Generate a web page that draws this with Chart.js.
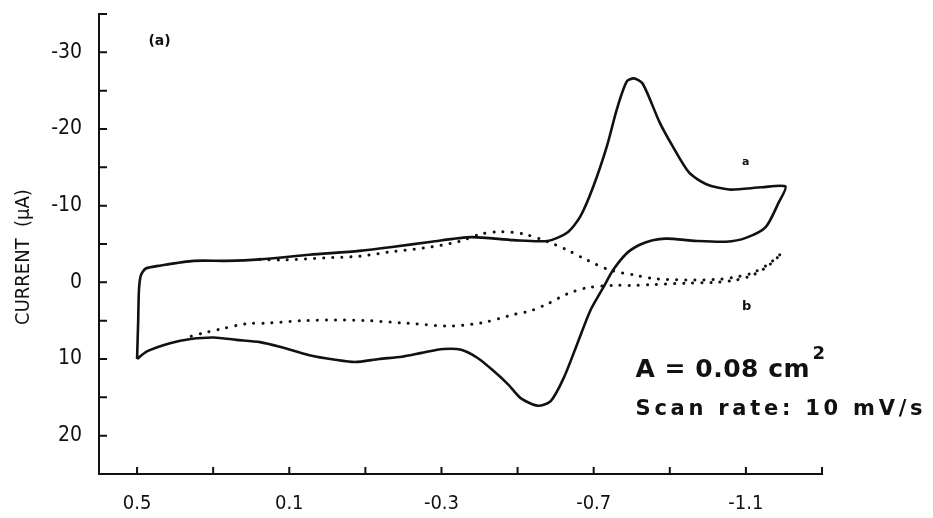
<!DOCTYPE html>
<html>
<head>
<meta charset="utf-8">
<script src="https://cdn.jsdelivr.net/npm/chart.js@4.4.1/dist/chart.umd.min.js"></script>
<style>
  html, body { margin: 0; padding: 0; background: #fff; }
</style>
</head>
<body>
<canvas id="cv" width="933" height="518"></canvas>
<script>
// ===== DATA =====
// curve a (solid): scan 0.5 V -> -1.2 V -> 0.5 V
const potentialA = [0.5, 0.497, 0.495, 0.49, 0.477, 0.437, 0.351, 0.265, 0.177, 0.047, -0.084, -0.17, -0.274, -0.378, -0.49,
    -0.579, -0.631, -0.665, -0.699, -0.735, -0.761, -0.787, -0.806, -0.829, -0.873,
    -0.907, -0.951, -0.996, -1.056, -1.142, -1.204,
    -1.186, -1.152, -1.1, -1.048, -0.97, -0.892, -0.855, -0.821, -0.787, -0.751,
    -0.725, -0.691, -0.657, -0.621, -0.587, -0.553, -0.508, -0.475, -0.438, -0.396,
    -0.352, -0.305, -0.248, -0.196, -0.136, -0.073, -0.021, 0.047, 0.125, 0.177,
    0.239, 0.299, 0.359, 0.411, 0.474, 0.5];
const currentA = [10.0, 5.0, 1.0, -0.9, -1.8, -2.2, -2.8, -2.8, -3.0, -3.6, -4.1, -4.6, -5.3, -5.9, -5.5,
    -5.4, -6.5, -8.6, -12.5, -17.8, -22.6, -26.2, -26.6, -25.9, -20.9,
    -17.8, -14.3, -12.8, -12.1, -12.4, -12.5,
    -10.4, -7.2, -5.8, -5.3, -5.4, -5.7, -5.5, -4.9, -3.8, -1.6,
    0.7, 3.7, 8.0, 12.5, 15.5, 16.1, 15.1, 13.3, 11.6, 9.9,
    8.8, 8.7, 9.2, 9.7, 10.0, 10.4, 10.1, 9.5, 8.4, 7.8,
    7.5, 7.2, 7.4, 7.9, 9.0, 10.0];

// curve b (dotted)
const potentialB = [0.177, 0.125, 0.005, -0.084, -0.17, -0.256, -0.344, -0.404, -0.456, -0.516,
    -0.579, -0.631, -0.683, -0.743, -0.813, -0.855, -0.944, -1.03, -1.074, -1.116,
    -1.16, -1.194, -1.16, -1.116, -1.074, -1.022, -0.944, -0.855, -0.795, -0.751,
    -0.683, -0.631, -0.579, -0.535, -0.49, -0.404, -0.318, -0.23, -0.196, -0.11,
    -0.021, 0.065, 0.151, 0.213, 0.281, 0.325, 0.37];
const currentB = [-3.0, -2.9, -3.2, -3.4, -4.0, -4.5, -5.3, -6.3, -6.6, -6.3,
    -5.3, -4.2, -2.9, -1.6, -0.9, -0.5, -0.3, -0.4, -0.7, -1.2,
    -2.4, -3.8, -2.2, -0.9, -0.3, 0.0, 0.1, 0.3, 0.4, 0.4,
    0.7, 1.5, 2.8, 3.7, 4.2, 5.3, 5.7, 5.4, 5.3, 5.0,
    4.9, 5.0, 5.3, 5.4, 6.1, 6.6, 7.2];

// axis ticks (minor marks) and which of them get a label
const xTickValues = [0.5, 0.3, 0.1, -0.1, -0.3, -0.5, -0.7, -0.9, -1.1, -1.3];
const xTickLabels = [0.5, 0.1, -0.3, -0.7, -1.1];
const yTickValues = [-35, -30, -25, -20, -15, -10, -5, 0, 5, 10, 15, 20];
const yTickLabels = [-30, -20, -10, 0, 10, 20];

const INK = "#111";
const narrow = "'Liberation Sans Narrow', 'DejaVu Sans Condensed', sans-serif";

const toPoints = (xs, ys) => xs.map((v, i) => ({ x: v, y: ys[i] }));

// write text stretched to a given width via letter spacing
function spacedText(ctx, text, x, y, width) {
    ctx.letterSpacing = "0px";
    const w = ctx.measureText(text).width;
    ctx.letterSpacing = ((width - w) / (text.length - 1)) + "px";
    ctx.fillText(text, x, y);
    ctx.letterSpacing = "0px";
}

// keep the frame exactly where the layout padding puts it
function noEdgePadding(s) {
    s.paddingTop = 0;
    s.paddingBottom = 0;
    s.paddingLeft = 0;
    s.paddingRight = 0;
}

// ===== Inward tick marks, labels and notes =====
const plotDecor = {
    id: 'plotDecor',
    afterDraw(chart) {
        const { ctx, chartArea: a, scales: { x, y } } = chart;
        ctx.save();
        ctx.strokeStyle = INK;
        ctx.lineWidth = 2;
        ctx.beginPath();
        x.ticks.forEach(t => {
            const px = x.getPixelForValue(t.value);
            ctx.moveTo(px, a.bottom);
            ctx.lineTo(px, a.bottom - 7);
        });
        y.ticks.forEach(t => {
            const py = y.getPixelForValue(t.value);
            ctx.moveTo(a.left, py);
            ctx.lineTo(a.left + 8, py);
        });
        ctx.stroke();

        ctx.fillStyle = INK;
        ctx.textBaseline = "alphabetic";
        ctx.textAlign = "left";

        // axis title
        ctx.save();
        ctx.translate(29, 257);
        ctx.rotate(-Math.PI / 2);
        ctx.textAlign = "center";
        ctx.font = "20px " + narrow;
        ctx.fillText("CURRENT  (\u00b5A)", 0, 0);
        ctx.restore();

        ctx.font = "bold 14px 'DejaVu Sans'";
        ctx.fillText("(a)", x.getPixelForValue(0.47), y.getPixelForValue(-31.0));

        ctx.font = "bold 11px 'DejaVu Sans'";
        ctx.fillText("a", x.getPixelForValue(-1.09), y.getPixelForValue(-15.3));
        ctx.font = "bold 13px 'DejaVu Sans'";
        ctx.fillText("b", x.getPixelForValue(-1.09), y.getPixelForValue(3.6));

        const left = x.getPixelForValue(-0.81);
        ctx.font = "bold 25px 'DejaVu Sans'";
        spacedText(ctx, "A = 0.08 cm", left, y.getPixelForValue(12.4), 174);
        ctx.font = "bold 18px 'DejaVu Sans'";
        ctx.fillText("2", left + 177, y.getPixelForValue(10.0));
        ctx.font = "bold 21px 'DejaVu Sans'";
        spacedText(ctx, "Scan rate: 10 mV/s", left, y.getPixelForValue(17.3), 287);
        ctx.restore();
    }
};

new Chart(document.getElementById("cv"), {
    type: "line",
    data: {
        datasets: [
            {
                label: "a",
                data: toPoints(potentialA, currentA),
                borderColor: INK,
                borderWidth: 2.6,
                pointRadius: 0,
                tension: 0.25,
                fill: false
            },
            {
                label: "b",
                data: toPoints(potentialB, currentB),
                borderColor: INK,
                borderWidth: 3,
                borderDash: [0.1, 9],
                borderCapStyle: "round",
                pointRadius: 0,
                tension: 0.3,
                fill: false
            }
        ]
    },
    options: {
        responsive: false,
        animation: false,
        layout: { padding: { top: 14, right: 111, left: 0, bottom: 0 } },
        plugins: {
            legend: { display: false },
            tooltip: { enabled: false }
        },
        scales: {
            x: {
                type: "linear",
                min: -1.3,
                max: 0.6,
                reverse: true,
                afterBuildTicks: s => { s.ticks = xTickValues.map(v => ({ value: v })); },
                afterFit: s => { s.height = 44; noEdgePadding(s); },
                grid: { display: false, drawTicks: false },
                border: { display: true, color: INK, width: 2 },
                ticks: {
                    autoSkip: false,
                    maxRotation: 0,
                    padding: 18,
                    color: INK,
                    font: { family: narrow, size: 20 },
                    callback: v => xTickLabels.includes(v) ? v.toFixed(1) : ""
                }
            },
            y: {
                type: "linear",
                min: -35,
                max: 25,
                reverse: true,
                afterBuildTicks: s => { s.ticks = yTickValues.map(v => ({ value: v })); },
                afterFit: s => { s.width = 99; noEdgePadding(s); },
                grid: { display: false, drawTicks: false },
                border: { display: true, color: INK, width: 2 },
                ticks: {
                    autoSkip: false,
                    padding: 17,
                    color: INK,
                    font: { family: narrow, size: 21 },
                    callback: v => yTickLabels.includes(v) ? String(v) : ""
                }
            }
        }
    },
    plugins: [plotDecor]
});
</script>
</body>
</html>
